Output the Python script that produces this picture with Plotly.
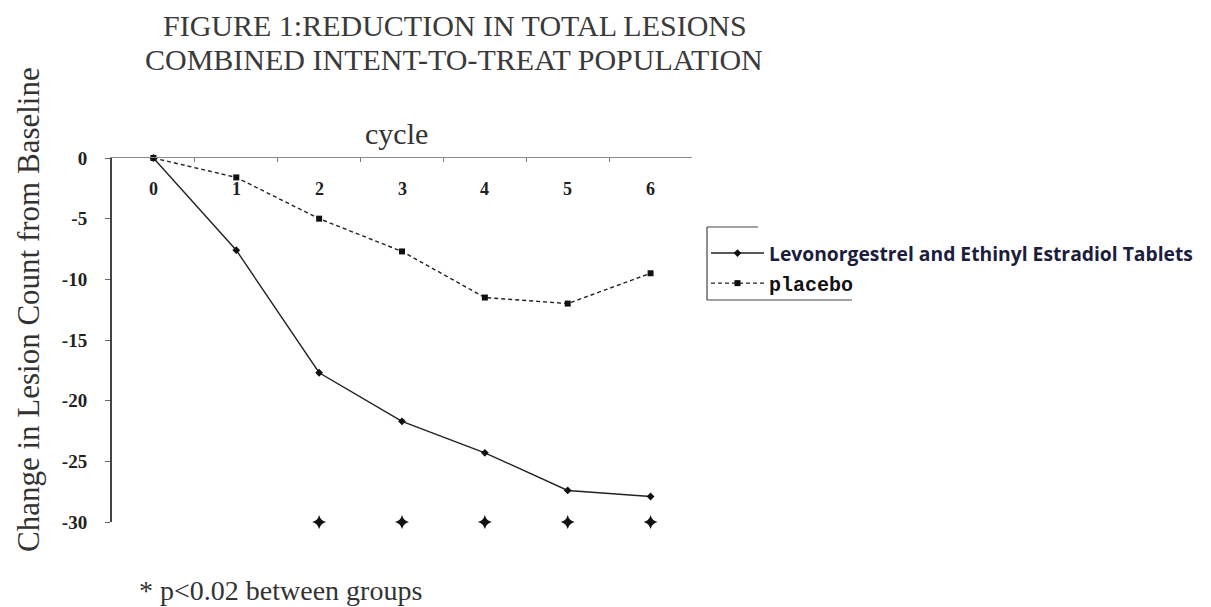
import plotly.graph_objects as go

cycles = ["0", "1", "2", "3", "4", "5", "6"]
treatment = [0, -7.6, -17.7, -21.7, -24.3, -27.4, -27.9]
placebo = [0, -1.6, -5.0, -7.7, -11.5, -12.0, -9.5]
sig_cycles = ["2", "3", "4", "5", "6"]
sig_level = [-30, -30, -30, -30, -30]
y_ticks = [0, -5, -10, -15, -20, -25, -30]
y_tick_labels = ["0", "-5", "-10", "-15", "-20", "-25", "-30"]

W, H = 1211, 607
OFF = 8  # page body margin
L, T = 104, 150
pw, ph = 580, 364
R, B = W - L - pw, H - T - ph

def px(x):
    return (x - OFF - L) / pw

def py(y):
    return (H - B - (y - OFF)) / ph

fig = go.Figure()
fig.add_trace(go.Scatter(
    x=cycles, y=treatment, mode="lines+markers",
    name="<span style='font-family:Open Sans;color:#1c1d3d'><b>Levonorgestrel and Ethinyl Estradiol Tablets</b></span>",
    line=dict(color="#222222", width=1.4),
    marker=dict(symbol="diamond", size=6, color="#111111"),
    legendgroup="a", cliponaxis=False,
))
fig.add_trace(go.Scatter(
    x=cycles, y=placebo, mode="lines+markers",
    name="<span style='font-family:Liberation Mono;font-size:20px;color:#111111'><b>placebo</b></span>",
    line=dict(color="#222222", width=1.4, dash="4px,3px"),
    marker=dict(symbol="square", size=6, color="#111111"),
    legendgroup="b", cliponaxis=False,
))
fig.add_trace(go.Scatter(
    x=sig_cycles, y=sig_level, mode="markers", showlegend=False,
    marker=dict(symbol="star-diamond", size=10, color="#111111"),
    cliponaxis=False,
))

serif = "Liberation Serif, Times New Roman, serif"

fig.update_layout(
    width=W, height=H,
    margin=dict(l=L, r=R, t=T, b=B, autoexpand=False),
    paper_bgcolor="white", plot_bgcolor="white",
    showlegend=True,
    legend=dict(
        x=px(706), y=py(234), xanchor="left", yanchor="top",
        font=dict(size=19.3, family="Open Sans", color="#111111"),
        tracegroupgap=2, traceorder="grouped", itemwidth=53,
        bgcolor="rgba(0,0,0,0)",
    ),
    xaxis=dict(
        type="category", categoryorder="array", categoryarray=cycles,
        range=[-0.5, 6.5], side="top",
        showline=True, linecolor="#8a8a8a", linewidth=1.2,
        ticks="inside", ticklen=4, tickcolor="#777777", tickson="boundaries",
        showticklabels=False,
        showgrid=False, zeroline=False, automargin=False,
    ),
    yaxis=dict(
        range=[-30, 0], tickvals=y_ticks, ticktext=y_tick_labels,
        showline=True, linecolor="#444444", linewidth=2,
        ticks="outside", ticklen=5, tickcolor="#666666",
        tickfont=dict(family=serif, size=19, color="#222222", weight="bold"),
        ticklabelstandoff=14,
        showgrid=False, zeroline=False, automargin=False,
    ),
)

annots = [
    dict(text="FIGURE 1:REDUCTION IN TOTAL LESIONS",
         x=px(455), y=py(25), xanchor="center", yanchor="middle",
         font=dict(family=serif, size=30, color="#3a3a3a")),
    dict(text="COMBINED INTENT-TO-TREAT POPULATION",
         x=px(454), y=py(59), xanchor="center", yanchor="middle",
         font=dict(family=serif, size=30, color="#3a3a3a")),
    dict(text="Change in Lesion Count from Baseline", textangle=-90,
         x=px(28), y=py(310), xanchor="center", yanchor="middle",
         font=dict(family=serif, size=31, color="#333333")),
    dict(text="cycle", x=px(396), y=py(133), xanchor="center", yanchor="middle",
         font=dict(family=serif, size=30, color="#333333")),
    dict(text="* p<0.02 between groups", x=px(137), y=py(590), xanchor="left", yanchor="middle",
         font=dict(family=serif, size=28, color="#333333")),
]
for a in annots:
    a.update(xref="paper", yref="paper", showarrow=False)
# category labels drawn under the top axis line, in data coordinates
for c in cycles:
    annots.append(dict(text="<b>%s</b>" % c, x=c, y=-2.55, xref="x", yref="y",
                       showarrow=False, xanchor="center", yanchor="middle",
                       font=dict(family=serif, size=18, color="#222222")))
fig.update_layout(annotations=annots)

ln = dict(color="#444444", width=1.2)
fig.add_shape(type="line", xref="paper", yref="paper", x0=px(707), x1=px(758), y0=py(227), y1=py(227), line=ln)
fig.add_shape(type="line", xref="paper", yref="paper", x0=px(707), x1=px(707), y0=py(227), y1=py(300), line=ln)
fig.add_shape(type="line", xref="paper", yref="paper", x0=px(707), x1=px(852), y0=py(300), y1=py(300), line=ln)

fig.write_html("out.html")
